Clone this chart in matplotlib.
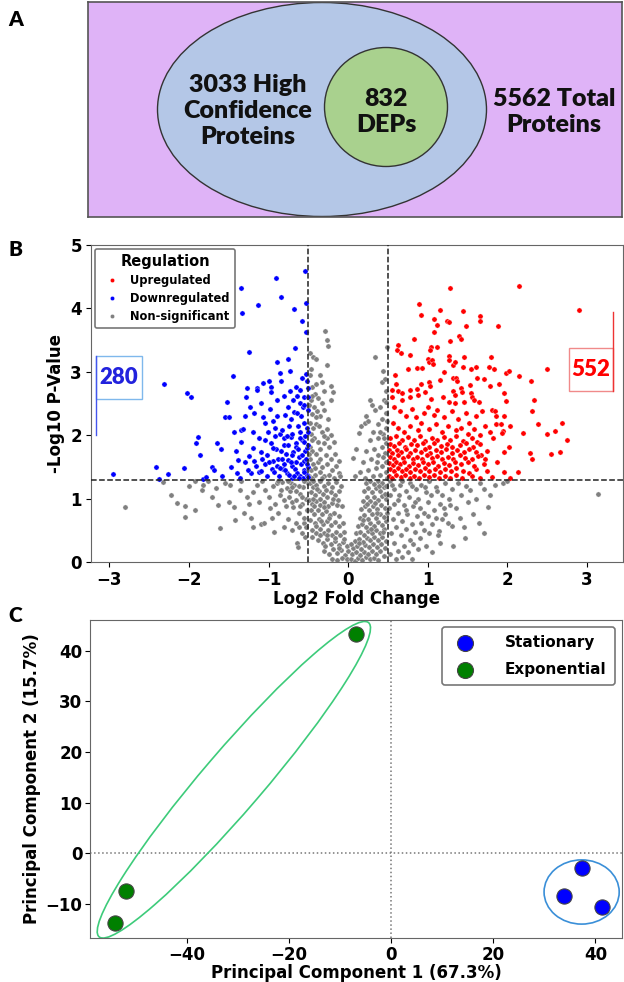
import matplotlib
matplotlib.use('Agg')
import matplotlib.pyplot as plt
from matplotlib.patches import Ellipse, Rectangle
from matplotlib.lines import Line2D

# ---------------- Panel A (Venn) ----------------
venn_high_conf = "3033 High\nConfidence\nProteins"
venn_deps = "832\nDEPs"
venn_total = "5562 Total\nProteins"

# ---------------- Panel B (volcano) ----------------
down_pts = [(-2.95,1.39),(-2.41,1.50),(-2.38,1.31),(-2.31,2.81),(-2.26,1.39),(-2.06,1.48),(-2.02,2.66),(-1.98,2.60),
(-1.91,1.88),(-1.88,1.97),(-1.86,1.69),(-1.82,1.31),(-1.78,1.34),(-1.71,1.50),(-1.69,1.45),(-1.65,1.88),(-1.60,1.78),
(-1.58,1.36),(-1.55,2.29),(-1.52,2.52),(-1.50,2.29),(-1.47,1.50),(-1.45,2.93),(-1.41,1.75),(-1.38,1.61),(-1.36,1.33),
(-1.35,2.08),(-1.34,1.89),(-1.34,4.32),(-1.33,3.93),(-1.32,2.10),(-1.30,1.57),(-1.28,2.60),(-1.27,2.74),(-1.25,1.67),
(-1.24,3.31),(-1.23,2.44),(-1.22,1.40),(-1.20,2.05),(-1.18,2.35),(-1.16,1.51),(-1.15,2.74),(-1.14,2.71),(-1.13,4.05),
(-1.12,1.42),(-1.10,1.74),(-1.09,1.44),(-1.07,2.29),(-1.07,2.82),(-1.05,1.55),(-1.04,1.92),(-1.02,1.69),(-1.02,1.36),
(-1.01,2.05),(-1.00,2.85),(-0.98,2.41),(-0.97,2.76),(-0.97,2.68),(-0.96,1.47),(-0.94,1.60),(-0.92,2.12),(-0.91,1.79),
(-0.91,4.48),(-0.90,2.56),(-0.89,3.15),(-0.88,1.63),(-0.87,1.35),(-0.86,2.02),(-0.86,2.98),(-0.84,4.18),(-0.84,2.85),
(-0.82,1.47),(-0.81,1.84),(-0.80,1.95),(-0.79,2.32),(-0.78,1.70),(-0.77,1.40),(-0.76,1.61),(-0.75,3.20),(-0.74,2.15),
(-0.73,2.70),(-0.73,3.01),(-0.72,1.97),(-0.72,2.25),(-0.71,1.33),(-0.70,1.52),(-0.69,1.74),(-0.69,2.55),(-0.68,2.37),
(-0.68,3.99),(-0.67,1.47),(-0.67,3.38),(-0.66,1.88),(-0.65,1.82),(-0.65,2.76),(-0.64,1.40),(-0.63,2.15),(-0.62,1.65),
(-0.61,1.36),(-0.60,2.50),(-0.60,2.05),(-0.59,2.30),(-0.59,1.55),(-0.58,3.80),(-0.58,1.92),(-0.57,1.32),(-0.56,1.90),
(-0.56,2.60),(-0.55,1.45),(-0.55,1.60),(-0.55,2.20),(-0.54,4.59),(-0.54,1.75),(-0.53,4.08),(-0.53,3.63),(-0.53,2.96),
(-0.52,2.12),(-0.52,1.80),(-0.52,1.38),(-0.51,2.74),(-0.51,2.60),(-0.51,1.50),(-0.51,2.40),(-0.52,2.85),(-0.58,2.90),
(-0.99,1.58),(-0.95,1.80),(-0.93,1.42),(-0.90,2.30),(-0.89,1.52),(-0.85,1.75),(-0.83,2.08),(-0.80,1.55),(-0.79,1.45),
(-0.76,1.85),(-0.75,2.45),(-0.74,1.38),(-0.71,1.68),(-0.70,2.02),(-0.66,1.58),(-0.64,2.35),(-0.63,1.78),(-0.62,1.32),
(-0.61,1.95),(-0.58,1.68),(-0.57,2.45),(-0.56,1.42),(-0.54,1.98),(-0.53,1.62),(-0.52,1.55),(-0.51,1.85),(-0.50,1.34),
(-0.50,2.05),(-0.68,1.36),(-0.72,1.58),(-0.77,1.98),(-0.83,1.62),(-0.86,1.48),(-0.92,1.98),(-0.97,1.88),(-1.05,2.20),
(-1.08,1.62),(-1.12,1.95),(-1.18,1.60),(-1.20,1.80),(-1.26,1.45),(-1.30,2.30),(-1.40,1.40),(-1.43,2.05),(-1.10,2.50),
(-0.95,2.22),(-0.80,2.62),(-0.64,2.62),(-0.60,2.72),(-0.55,2.48)]

up_pts = [(1.28,4.32),(2.15,4.35),(2.90,3.97),(0.89,4.07),(0.92,3.90),(1.15,3.97),(1.44,3.96),(1.66,3.88),(1.66,3.80),
(1.88,3.72),(1.08,3.83),(1.11,3.74),(1.24,3.80),(1.27,3.78),(1.48,3.72),(1.08,3.63),(1.39,3.57),(1.42,3.52),(1.28,3.48),
(0.83,3.52),(0.62,3.42),(0.61,3.34),(0.66,3.30),(0.77,3.26),(1.04,3.39),(1.03,3.34),(1.11,3.39),(1.00,3.20),(1.01,3.16),
(1.05,3.18),(1.07,3.12),(1.27,3.25),(1.26,3.18),(1.32,3.10),(1.34,3.16),(1.46,3.24),(1.79,3.23),(0.75,3.05),(0.87,3.06),
(0.93,3.06),(1.20,3.00),(1.44,3.08),(1.54,3.05),(1.60,3.08),(1.77,3.07),(1.83,3.05),(1.98,2.98),(2.02,3.02),(2.15,2.93),
(2.30,2.85),(2.50,3.05),(0.59,2.95),(1.32,2.91),(1.36,2.91),(1.37,2.86),(1.62,2.90),(1.70,2.88),(1.90,2.80),(1.78,2.78),
(1.53,2.79),(1.42,2.75),(1.32,2.70),(1.15,2.87),(1.02,2.84),(0.92,2.81),(0.87,2.73),(0.77,2.72),(0.60,2.80),(0.55,2.72),
(0.62,2.70),(0.68,2.66),(0.97,2.68),(1.03,2.78),(1.19,2.60),(1.34,2.64),(1.43,2.68),(1.54,2.66),(1.96,2.67),(0.55,2.60),
(0.67,2.55),(0.77,2.60),(0.88,2.64),(1.04,2.57),(1.26,2.53),(1.34,2.50),(1.46,2.52),(1.55,2.60),(1.58,2.55),(1.64,2.52),
(1.80,2.40),(1.85,2.38),(2.31,2.38),(1.86,2.30),(1.96,2.30),(2.03,2.15),(2.20,2.04),(2.50,2.02),(2.60,2.06),(2.68,2.20),
(1.94,2.06),(2.75,1.93),(2.55,1.70),(2.66,1.74),(2.28,1.72),(2.31,1.62),(2.38,2.17),(2.02,1.82),(1.96,1.73),(1.93,2.04),
(1.87,1.57),(1.96,1.42),(2.13,1.42),(1.98,2.54),(2.33,2.56),(1.86,2.17),(1.92,2.17),(1.74,1.75),(1.67,1.68),(1.72,1.63),
(1.70,1.55),(1.74,1.44),(1.61,1.46),
(0.58,2.45),(0.65,2.38),(0.72,2.30),(0.80,2.42),(0.85,2.28),(0.95,2.35),(1.00,2.45),(1.08,2.32),(1.12,2.40),(1.20,2.28),
(1.30,2.38),(1.38,2.25),(1.48,2.35),(1.52,2.20),(1.60,2.30),(1.68,2.38),(1.72,2.15),(0.56,2.20),(0.62,2.12),(0.70,2.05),
(0.78,2.15),(0.88,2.08),(0.92,2.20),(1.02,2.10),(1.10,2.18),(1.18,2.05),(1.25,2.15),(1.35,2.08),(1.42,2.12),(1.50,2.02),
(1.58,2.10),(1.65,2.00),(1.78,2.05),(1.82,1.95),
(0.53,1.95),(0.60,1.98),(0.68,1.92),(0.75,1.97),(0.83,1.93),(0.90,1.98),(0.97,1.91),(1.05,1.96),(1.12,1.92),(1.20,1.97),
(1.28,1.93),(1.36,1.98),(1.44,1.91),(1.55,1.95),(1.62,1.90),
(0.52,1.86),(0.57,1.83),(0.64,1.87),(0.71,1.82),(0.79,1.86),(0.86,1.84),(0.94,1.88),(1.01,1.82),(1.08,1.87),(1.16,1.83),
(1.24,1.86),(1.31,1.81),(1.40,1.85),(1.48,1.88),(1.57,1.82),(1.66,1.86),
(0.51,1.76),(0.55,1.72),(0.61,1.77),(0.66,1.73),(0.73,1.78),(0.78,1.72),(0.84,1.76),(0.91,1.74),(0.97,1.78),(1.03,1.72),
(1.10,1.77),(1.17,1.73),(1.23,1.78),(1.30,1.72),(1.37,1.76),(1.45,1.73),(1.52,1.78),(1.60,1.74),
(0.53,1.66),(0.58,1.63),(0.63,1.68),(0.69,1.64),(0.75,1.67),(0.81,1.62),(0.87,1.66),(0.93,1.63),(0.99,1.68),(1.05,1.64),
(1.12,1.67),(1.18,1.62),(1.25,1.66),(1.32,1.63),(1.40,1.68),(1.47,1.64),(1.55,1.62),(1.63,1.67),
(0.51,1.56),(0.56,1.53),(0.60,1.58),(0.65,1.54),(0.70,1.57),(0.76,1.52),(0.82,1.56),(0.88,1.53),(0.94,1.58),(1.00,1.54),
(1.06,1.57),(1.13,1.52),(1.20,1.56),(1.27,1.53),(1.34,1.58),(1.42,1.54),(1.50,1.57),(1.58,1.52),
(0.52,1.46),(0.57,1.43),(0.62,1.48),(0.67,1.44),(0.72,1.47),(0.78,1.42),(0.84,1.46),(0.90,1.43),(0.96,1.48),(1.02,1.44),
(1.09,1.47),(1.15,1.42),(1.22,1.46),(1.29,1.43),(1.36,1.48),(1.44,1.44),(1.52,1.41),
(0.51,1.36),(0.55,1.33),(0.60,1.38),(0.66,1.34),(0.71,1.37),(0.77,1.32),(0.83,1.36),(0.89,1.33),(0.95,1.38),(1.01,1.34),
(1.08,1.37),(1.14,1.32),(1.21,1.36),(1.28,1.33),(1.35,1.37),(1.43,1.32),(1.55,1.35),(1.65,1.33),(1.80,1.34),(2.03,1.32)]

ns_pts = [(-2.80,0.87),(-2.32,1.26),(-2.23,1.06),(-2.15,0.93),(-2.05,0.88),(-2.05,0.71),(-1.92,0.82),(-1.84,1.14),
(-1.82,1.21),(-1.76,1.28),(-1.71,1.03),(-1.66,1.17),(-1.63,0.90),(-1.61,0.53),(-1.55,1.25),(-1.48,1.22),(-1.44,0.87),
(-1.42,0.66),(-1.36,1.14),(-1.31,0.77),(-1.27,1.03),(-1.25,0.92),(-1.19,0.55),(-1.15,1.22),(-1.10,0.60),(-1.08,1.28),
(-1.06,0.61),(-1.04,1.14),(-1.00,1.03),(-0.98,0.85),(-0.94,1.20),(-0.92,0.92),(-0.88,0.77),(-0.85,1.14),(-0.83,1.26),
(-0.80,0.98),(-0.77,1.17),(-0.76,0.68),(-0.74,1.03),(-0.72,1.24),(-0.69,0.87),(-0.68,1.22),(-0.64,0.30),(-0.63,0.23),
(-0.60,1.08),(-0.62,0.77),(-0.58,0.92),(-0.62,0.55),(-0.57,1.18),(-0.55,0.62),(-0.54,0.40),(-0.53,1.00),(-0.52,0.82),
(-0.51,1.25),(-0.66,1.12),(-0.70,0.95),(-0.78,0.88),(-0.86,1.05),(-0.90,1.24),(-0.96,0.70),(-1.12,0.95),(-1.20,1.10),
(-1.34,1.27),(-0.58,0.45),(-0.56,0.70),(-0.60,0.88),(-0.66,0.62),(-0.71,0.50),(-0.73,1.12),(-0.81,0.55),(-0.93,0.48),
(-1.22,0.70),(-1.50,0.95),(-1.92,1.27),(-2.00,1.20),(-0.55,1.28),(-0.62,1.20),(-0.70,1.18),(-0.75,1.28),(-0.88,1.28),
(-0.58,1.02),(-0.65,0.98),(-0.53,0.55),
(-0.29,3.64),(-0.27,3.50),(-0.25,3.40),(-0.26,3.10),(-0.48,3.30),(-0.44,3.24),(-0.41,3.20),(-0.33,2.84),(-0.22,2.78),
(-0.19,2.68),(-0.45,2.76),(-0.40,2.80),(-0.42,2.65),(-0.22,2.56),(-0.33,2.50),(-0.39,2.38),(-0.46,2.34),(-0.48,2.95),
(-0.47,3.05),(-0.36,2.95),(-0.30,2.70),(-0.47,2.55),(-0.43,2.45),(-0.36,2.30),(-0.30,2.40),(-0.25,2.25),(-0.48,2.20),
(-0.44,2.12),(-0.40,2.18),(-0.33,2.05),(-0.27,2.10),(-0.21,2.00),(-0.47,2.02),(-0.43,1.95),(-0.38,1.90),(-0.31,1.88),
(-0.24,1.82),(-0.18,1.90),(-0.48,1.82),(-0.45,1.75),(-0.40,1.70),(-0.35,1.78),(-0.28,1.68),(-0.22,1.62),(-0.16,1.70),
(-0.48,1.62),(-0.44,1.55),(-0.38,1.58),(-0.33,1.50),(-0.27,1.55),(-0.20,1.45),(-0.15,1.52),(-0.47,1.45),(-0.42,1.38),
(-0.36,1.42),(-0.30,1.35),(-0.24,1.38),(-0.18,1.32),(-0.12,1.40),(-0.49,1.35),(-0.45,2.62),(-0.38,2.58),(-0.49,2.48),
(-0.41,2.28),(-0.46,1.92),(-0.35,1.62),(-0.49,1.70),(-0.26,1.95),(-0.42,1.48),(-0.31,1.98),(-0.37,2.15),(-0.45,1.32),
(-0.33,1.32),(-0.12,1.60),(-0.10,1.35),
(0.34,3.23),(0.43,2.84),(0.46,2.89),(0.49,3.39),(0.30,2.47),(0.34,2.40),(0.28,2.55),(0.22,2.30),(0.16,2.14),(0.13,2.03),
(0.06,1.64),(0.10,1.78),(0.21,2.19),(0.25,2.23),(0.48,2.70),(0.45,2.55),(0.40,2.45),(0.47,2.35),(0.42,2.25),(0.37,2.18),
(0.48,2.12),(0.31,2.05),(0.44,2.02),(0.38,1.95),(0.27,1.92),(0.48,1.88),(0.42,1.82),(0.33,1.78),(0.22,1.75),(0.46,1.72),
(0.38,1.68),(0.29,1.62),(0.18,1.58),(0.48,1.58),(0.43,1.52),(0.35,1.48),(0.25,1.45),(0.15,1.42),(0.47,1.42),(0.40,1.38),
(0.31,1.35),(0.21,1.32),(0.09,1.35),(0.49,1.32),(0.44,1.65),(0.36,1.58),(0.45,1.95),(0.49,2.22),(0.40,2.05),(0.47,2.52),
(0.44,3.02),
(-0.48,1.25),(-0.44,1.18),(-0.40,1.22),(-0.35,1.27),(-0.30,1.20),(-0.25,1.24),(-0.20,1.18),(-0.15,1.26),(-0.47,1.10),
(-0.42,1.05),(-0.37,1.12),(-0.32,1.08),(-0.27,1.02),(-0.22,1.10),(-0.17,1.05),(-0.12,1.12),(-0.49,0.98),(-0.45,0.92),
(-0.40,0.96),(-0.35,0.90),(-0.30,0.95),(-0.25,0.88),(-0.20,0.93),(-0.14,0.90),(-0.47,0.82),(-0.43,0.76),(-0.38,0.82),
(-0.33,0.75),(-0.28,0.80),(-0.23,0.74),(-0.18,0.78),(-0.12,0.72),(-0.48,0.66),(-0.42,0.62),(-0.37,0.68),(-0.32,0.60),
(-0.27,0.65),(-0.22,0.58),(-0.17,0.63),(-0.11,0.57),(-0.06,0.62),(-0.45,0.50),(-0.40,0.46),(-0.35,0.52),(-0.30,0.45),
(-0.25,0.50),(-0.20,0.43),(-0.15,0.48),(-0.10,0.42),(-0.05,0.47),(-0.38,0.35),(-0.32,0.30),(-0.27,0.36),(-0.22,0.28),
(-0.17,0.33),(-0.12,0.27),(-0.07,0.32),(-0.02,0.26),(-0.30,0.18),(-0.24,0.12),(-0.19,0.20),(-0.14,0.14),(-0.09,0.19),
(-0.04,0.11),(0.00,0.17),(-0.20,0.05),(-0.14,0.03),(-0.08,0.07),(-0.02,0.04),(-0.44,1.00),(-0.39,1.15),(-0.28,1.14),
(-0.19,1.00),(-0.34,0.64),(-0.24,0.70),(-0.43,0.88),(-0.30,0.87),(-0.13,0.98),(-0.08,0.88),(-0.09,1.20),(-0.46,0.40),
(-0.41,0.56),(-0.36,0.42),(-0.26,0.42),(-0.16,0.38),(-0.05,0.36),(-0.29,0.25),(-0.11,0.22),(-0.35,1.00),(-0.44,1.28),
(0.03,0.05),(0.08,0.02),(0.12,0.06),(0.17,0.03),(0.22,0.08),(0.27,0.04),(0.32,0.07),(0.37,0.03),(0.05,0.12),(0.10,0.15),
(0.15,0.11),(0.20,0.16),(0.25,0.12),(0.30,0.17),(0.35,0.13),(0.40,0.18),(0.45,0.10),(0.06,0.22),(0.11,0.26),(0.16,0.21),
(0.21,0.27),(0.26,0.23),(0.31,0.28),(0.36,0.24),(0.41,0.29),(0.46,0.22),(0.08,0.33),(0.13,0.37),(0.18,0.32),(0.23,0.38),
(0.28,0.34),(0.33,0.39),(0.38,0.35),(0.43,0.40),(0.48,0.33),(0.10,0.45),(0.15,0.48),(0.20,0.43),(0.25,0.49),(0.30,0.45),
(0.35,0.51),(0.40,0.46),(0.45,0.52),(0.12,0.56),(0.17,0.60),(0.22,0.55),(0.27,0.61),(0.32,0.57),(0.37,0.63),(0.42,0.58),
(0.47,0.64),(0.15,0.70),(0.20,0.74),(0.25,0.68),(0.30,0.75),(0.35,0.70),(0.40,0.76),(0.45,0.71),(0.49,0.78),(0.16,0.84),
(0.21,0.88),(0.26,0.82),(0.31,0.89),(0.36,0.84),(0.41,0.90),(0.46,0.85),(0.18,0.97),(0.23,1.02),(0.28,0.96),(0.33,1.03),
(0.38,0.98),(0.43,1.04),(0.48,0.99),(0.20,1.12),(0.25,1.16),(0.30,1.10),(0.35,1.17),(0.40,1.12),(0.45,1.18),(0.22,1.25),
(0.28,1.28),(0.33,1.23),(0.38,1.27),(0.43,1.24),(0.48,1.20),(0.19,0.66),(0.34,0.93),(0.44,0.48),(0.29,0.52),(0.39,1.20),
(0.24,0.92),(0.14,0.30),(0.04,0.28),(0.36,0.78),(0.46,1.08),
(3.14,1.08),(1.75,0.87),(1.57,0.76),(1.64,0.62),(1.71,0.45),(1.47,0.38),(1.32,0.25),(1.60,1.00),(1.53,1.13),(1.42,1.06),
(1.28,0.90),(1.30,0.56),(1.14,0.49),(1.13,0.43),(1.05,0.60),(1.85,1.22),(1.95,1.25),(1.70,1.15),(1.65,1.25),(1.48,1.20),
(1.38,1.24),(1.30,1.15),(1.22,1.25),(1.18,1.05),(1.10,1.18),(1.02,1.27),(0.98,1.10),(0.92,1.22),(0.85,1.15),(0.78,1.25),
(0.72,1.12),(0.65,1.22),(0.58,1.15),(0.52,1.27),(1.35,0.85),(1.22,0.75),(1.15,0.92),(1.08,0.82),(1.00,0.95),(0.95,0.78),
(0.88,1.00),(0.82,0.88),(0.76,1.02),(0.70,0.90),(0.64,1.05),(0.58,0.92),(0.53,1.05),(1.25,0.62),(1.18,0.68),(1.10,0.70),
(1.00,0.72),(0.92,0.62),(0.86,0.72),(0.80,0.60),(0.74,0.75),(0.68,0.65),(0.62,0.78),(0.56,0.68),(0.51,0.85),(1.02,0.45),
(0.95,0.50),(0.90,0.38),(0.84,0.48),(0.78,0.35),(0.72,0.52),(0.66,0.42),(0.60,0.55),(0.54,0.45),(0.98,0.25),(0.88,0.20),
(0.82,0.28),(0.75,0.15),(0.70,0.25),(0.63,0.18),(0.57,0.30),(0.52,0.12),(0.80,0.05),(0.68,0.08),(0.60,0.04),(1.15,0.30),
(1.05,0.15),(2.00,1.28),(1.78,1.05),(1.50,0.95),(1.40,0.70),(1.26,1.00),(1.12,1.12),(0.96,1.18),(0.80,1.20),(0.68,1.28),
(0.55,1.22),(0.62,0.98),(0.72,0.82),(0.84,0.95),(0.90,0.85),(1.04,1.05),(1.20,0.85),(1.46,0.55)]

up_x, up_y = zip(*up_pts)
down_x, down_y = zip(*down_pts)
ns_x, ns_y = zip(*ns_pts)
fc_cut = 0.5
p_cut = 1.3
n_down_label = "280"
n_up_label = "552"

# ---------------- Panel C (PCA) ----------------
stat_pc1 = [37.4, 33.9, 41.3]
stat_pc2 = [-3.0, -8.5, -10.7]
expo_pc1 = [-6.8, -51.9, -54.0]
expo_pc2 = [43.4, -7.5, -13.9]

CAL = ['Lato', 'DejaVu Sans']
HEAVY = 'heavy'

fig = plt.figure(figsize=(6.24, 9.82), dpi=100)
W, H = 624.0, 982.0

def frac(l, t, r, b):
    return [l / W, 1 - b / H, (r - l) / W, (b - t) / H]

# ---- Panel A ----
axA = fig.add_axes(frac(88, 2, 622, 217))
axA.set_xlim(0, 534)
axA.set_ylim(0, 215)
axA.set_facecolor('#DFB3F7')
axA.set_xticks([]); axA.set_yticks([])
for s in axA.spines.values():
    s.set_color('#555555'); s.set_linewidth(1.2)
axA.add_patch(Ellipse((234, 107.5), 329, 214, facecolor='#B4C7E7', edgecolor='#333333', lw=1.0))
axA.add_patch(Ellipse((298, 110), 123, 119, facecolor='#A9D18E', edgecolor='#333333', lw=1.0))
for (tx, ty, txt) in [(160, 106, venn_high_conf), (298, 105, venn_deps), (466, 105, venn_total)]:
    axA.text(tx, ty, txt, ha='center', va='center', fontsize=18, fontweight=HEAVY,
             family=CAL, linespacing=1.25, color='#111111')

fig.text(8 / W, 1 - 20 / H, 'A', fontsize=15, fontweight=HEAVY, family=CAL, va='center', ha='left')
fig.text(8 / W, 1 - 250 / H, 'B', fontsize=15, fontweight=HEAVY, family=CAL, va='center', ha='left')
fig.text(8 / W, 1 - 615 / H, 'C', fontsize=15, fontweight=HEAVY, family=CAL, va='center', ha='left')

# ---- Panel B ----
axB = fig.add_axes(frac(91, 245, 622.5, 562))
sc_kw = dict(s=14, edgecolors='white', linewidths=0.25)
axB.scatter(ns_x, ns_y, color='#808080', label='Non-significant', zorder=2, **sc_kw)
axB.scatter(down_x, down_y, color='blue', label='Downregulated', zorder=3, **sc_kw)
axB.scatter(up_x, up_y, color='red', label='Upregulated', zorder=3, **sc_kw)
axB.axvline(-fc_cut, color='#222222', ls='--', lw=1.1, zorder=4)
axB.axvline(fc_cut, color='#222222', ls='--', lw=1.1, zorder=4)
axB.axhline(p_cut, color='#222222', ls='--', lw=1.1, zorder=4)
axB.set_xlim(-3.23, 3.445)
axB.set_ylim(0, 5)
axB.set_xticks([-3, -2, -1, 0, 1, 2, 3])
axB.set_yticks([0, 1, 2, 3, 4, 5])
axB.tick_params(labelsize=12, pad=3)
for lab in axB.get_xticklabels() + axB.get_yticklabels():
    lab.set_fontweight('bold')
axB.set_xlabel('Log2 Fold Change', fontsize=12, fontweight='bold', labelpad=1)
axB.set_ylabel('-Log10 P-Value', fontsize=12, fontweight='bold', labelpad=4)
for s in axB.spines.values():
    s.set_color('#666666')

handles = [Line2D([], [], ls='', marker='o', markersize=3, color='red', markeredgecolor='white', markeredgewidth=0.2),
           Line2D([], [], ls='', marker='o', markersize=3, color='blue', markeredgecolor='white', markeredgewidth=0.2),
           Line2D([], [], ls='', marker='o', markersize=3, color='#808080', markeredgecolor='white', markeredgewidth=0.2)]
legB = axB.legend(handles, ['Upregulated', 'Downregulated', 'Non-significant'], title='Regulation',
                  loc='upper left', prop={'weight': 'bold', 'size': 8.3}, title_fontsize=10.5,
                  borderaxespad=0.35, labelspacing=0.42, handletextpad=0.6, borderpad=0.45,
                  framealpha=1, edgecolor='#777777', fancybox=True)
legB.get_title().set_fontweight('bold')
legB.get_frame().set_linewidth(1.2)

# count annotations
axB.add_patch(Rectangle((-3.17, 2.57), 0.58, 0.68, facecolor='white', edgecolor='#7FB8EC', lw=1.0, zorder=5))
axB.plot([-3.17, -3.17], [2.0, 3.25], color='#4455EE', lw=1.0, zorder=6)
axB.text(-2.88, 2.91, n_down_label, color='#2222DD', fontsize=16, fontweight=HEAVY, family=CAL,
         ha='center', va='center', zorder=7)
axB.add_patch(Rectangle((2.77, 2.70), 0.55, 0.68, facecolor='white', edgecolor='#F08A8A', lw=1.0, zorder=5))
axB.plot([3.32, 3.32], [2.70, 3.94], color='#EE3333', lw=1.0, zorder=6)
axB.text(3.045, 3.04, n_up_label, color='red', fontsize=16, fontweight=HEAVY, family=CAL,
         ha='center', va='center', zorder=7)

# ---- Panel C ----
axC = fig.add_axes(frac(90, 620, 622, 938))
axC.axvline(0, color='#777777', ls=':', lw=1.1, zorder=1)
axC.axhline(0, color='#777777', ls=':', lw=1.1, zorder=1)
axC.scatter(stat_pc1, stat_pc2, s=120, color='blue', edgecolors='#444444', linewidths=0.8, label='Stationary', zorder=3)
axC.scatter(expo_pc1, expo_pc2, s=120, color='green', edgecolors='#444444', linewidths=0.8, label='Exponential', zorder=3)
axC.add_patch(Ellipse((-30.75, 14.5), 81.5, 11.8, angle=49.7, facecolor='none', edgecolor='#3DCB7A', lw=1.2, zorder=2))
axC.add_patch(Ellipse((37.3, -7.7), 14.7, 12.7, facecolor='none', edgecolor='#3A8FD8', lw=1.2, zorder=2))
axC.set_xlim(-58.9, 45.2)
axC.set_ylim(-16.8, 46.1)
axC.set_xticks([-40, -20, 0, 20, 40])
axC.set_yticks([-10, 0, 10, 20, 30, 40])
axC.tick_params(labelsize=12, pad=2)
for lab in axC.get_xticklabels() + axC.get_yticklabels():
    lab.set_fontweight('bold')
axC.set_xlabel('Principal Component 1 (67.3%)', fontsize=12, fontweight='bold', labelpad=0)
axC.set_ylabel('Principal Component 2 (15.7%)', fontsize=12, fontweight='bold', labelpad=3)
for s in axC.spines.values():
    s.set_color('#666666')
legC = axC.legend(loc='upper right', prop={'weight': 'bold', 'size': 11}, framealpha=1,
                  edgecolor='#777777', borderaxespad=0.45, handletextpad=1.6, labelspacing=0.75,
                  borderpad=0.55, markerscale=1.05)
legC.get_frame().set_linewidth(1.2)

fig.savefig('out.png', dpi=100)
